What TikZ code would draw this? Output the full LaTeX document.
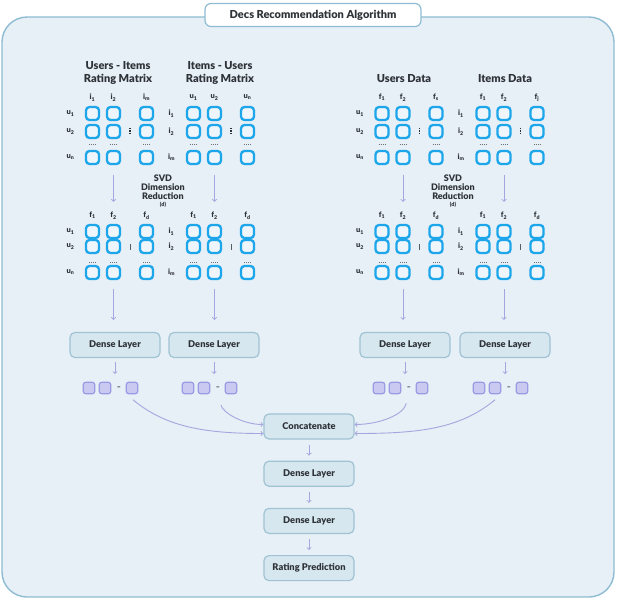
\documentclass[tikz,border=0pt]{standalone}
\usepackage{fontspec}
\setmainfont{Lato}[BoldFont={Lato Black}]
\usetikzlibrary{shapes, arrows, positioning}

\definecolor{framefill}{HTML}{E7EFF7}
\definecolor{frameline}{HTML}{8FBCD2}
\definecolor{cellline}{HTML}{1DA6EA}
\definecolor{cellfill}{HTML}{EEF6FC}
\definecolor{layerfill}{HTML}{D7E7F0}
\definecolor{layerline}{HTML}{A0C3D3}
\definecolor{vecfill}{HTML}{C9C9F1}
\definecolor{vecline}{HTML}{9B9BE3}
\definecolor{flowcol}{HTML}{A6A6DE}
\definecolor{inkcol}{HTML}{2E3338}

% one matrix of cells: name, origin, column letter, last column, row letter, last row, row gap, separator style
\newcommand{\ratingmat}[8]{%
\begin{scope}[shift={#2}]
  \foreach \cx/\ci in {0/1, 21/2, 54/#4}
    \node[colhead] at (\cx,-16) {#3\textsubscript{\ci}};
  \foreach \ry/\ri [count=\r] in {0/1, #7/2, #7+26/#6} {
    \node[rowhead] at (-22,\ry) {#5\textsubscript{\ri}};
    \foreach \cx [count=\k] in {0, 21, 54}
      \node[cell] (#1-\r-\k) at (\cx,\ry) {};
  }
  \foreach \cx in {0, 21, 54}
    \draw[hdots] (\cx-3.5,31) -- (\cx+3.5,31);
  \draw[#8] (37.5,#7-4) -- (37.5,#7+4);
\end{scope}}

\begin{document}
\begin{tikzpicture}[
    x=1pt, y=-1pt,
    node distance=21pt,
    every node/.style={text=inkcol, font=\bfseries},
    frame/.style={draw=frameline, fill=framefill, line width=1.4pt, rounded corners=25pt},
    titlebox/.style={rectangle, draw=frameline, fill=white, line width=1.2pt, rounded corners=6pt,
        minimum width=216pt, minimum height=23pt, font=\fontsize{11}{12}\selectfont\bfseries},
    heading/.style={align=center, font=\fontsize{11}{13}\selectfont\bfseries},
    colhead/.style={font=\fontsize{7.5}{7.5}\selectfont\bfseries, inner sep=0pt},
    rowhead/.style={font=\fontsize{7.5}{7.5}\selectfont\bfseries, inner sep=0pt},
    cell/.style={rectangle, draw=cellline, fill=cellfill, line width=2.3pt, rounded corners=3.5pt,
        minimum size=13pt, inner sep=0pt},
    hdots/.style={draw=inkcol!70, line width=0.9pt, dash pattern=on 0.9pt off 1.1pt},
    sepdots/.style={draw=inkcol, line width=1.3pt, dash pattern=on 1.3pt off 1.5pt},
    sepbar/.style={draw=inkcol!80, line width=0.8pt, shorten <=1pt, shorten >=1pt},
    svd/.style={align=center, font=\fontsize{9}{9.2}\selectfont\bfseries, inner sep=1pt},
    layer/.style={rectangle, draw=layerline, fill=layerfill, line width=1.2pt, rounded corners=5pt,
        minimum width=90pt, minimum height=25pt, font=\fontsize{9.3}{10}\selectfont\bfseries},
    vec/.style={rectangle, draw=vecline, fill=vecfill, line width=1.2pt, rounded corners=2.5pt,
        minimum size=11.5pt, inner sep=0pt},
    vdots/.style={font=\fontsize{7}{7}\selectfont\bfseries, inner sep=0pt},
    flow/.style={->, draw=flowcol, line width=0.9pt}
]
\useasboundingbox (0,0) rectangle (617,600);

% Frame and title
\draw[frame] (2,17) rectangle (614,597);
\node[titlebox] (title) at (313,15) {Decs Recommendation Algorithm};

% Headings
\node[heading] (head1) at (118,73) {Users - Items\\Rating Matrix};
\node[heading] (head2) at (220,73) {Items - Users\\Rating Matrix};
\node[heading] (head3) at (404,79) {Users Data};
\node[heading] (head4) at (505,79) {Items Data};

% Input matrices
\ratingmat{ui}{(92.5,113.5)}{i}{m}{u}{n}{18}{sepdots}
\ratingmat{iu}{(193.5,113.5)}{u}{n}{i}{m}{18}{sepdots}
\ratingmat{ud}{(382,113.5)}{f}{s}{u}{n}{18}{sepdots}
\ratingmat{id}{(483,113.5)}{f}{j}{i}{m}{18}{sepdots}

% Reduced matrices
\ratingmat{uir}{(92.5,231.5)}{f}{d}{u}{n}{15}{sepbar}
\ratingmat{iur}{(193.5,231.5)}{f}{d}{i}{m}{15}{sepbar}
\ratingmat{udr}{(382,231.5)}{f}{d}{u}{n}{15}{sepbar}
\ratingmat{idr}{(483,231.5)}{f}{d}{i}{m}{15}{sepbar}

% SVD labels
\node[svd] (svd1) at (163,187) {SVD\\Dimension\\Reduction};
\node[font=\fontsize{5.5}{5.5}\selectfont\bfseries, inner sep=0pt, below=1pt of svd1] {(d)};
\node[svd] (svd2) at (453,187) {SVD\\Dimension\\Reduction};
\node[font=\fontsize{5.5}{5.5}\selectfont\bfseries, inner sep=0pt, below=1pt of svd2] {(d)};

% Dense layers
\node[layer] (dense1) at (115,345) {Dense Layer};
\node[layer] (dense2) at (214,345) {Dense Layer};
\node[layer] (dense3) at (405,345) {Dense Layer};
\node[layer] (dense4) at (505,345) {Dense Layer};

% Output vectors
\foreach \d/\x in {1/115, 2/214, 3/405, 4/505} {
  \node[vec] (vec\d a) at (\x-26,388) {};
  \node[vec] (vec\d b) at (\x-10,388) {};
  \node[vdots] (vec\d d) at (\x+4,388) {\textendash};
  \node[vec] (vec\d c) at (\x+17,388) {};
}

% Merge chain
\node[layer] (concat) at (309,426.5) {Concatenate};
\node[layer, below=of concat] (dense5) {Dense Layer};
\node[layer, below=of dense5] (dense6) {Dense Layer};
\node[layer, below=of dense6] (predict) {Rating Prediction};

% Edges
\draw[flow, shorten <=10pt, shorten >=22pt] (ui-3-2) -- (uir-1-2);
\draw[flow, shorten <=10pt, shorten >=22pt] (iu-3-2) -- (iur-1-2);
\draw[flow, shorten <=10pt, shorten >=22pt] (ud-3-2) -- (udr-1-2);
\draw[flow, shorten <=10pt, shorten >=22pt] (id-3-2) -- (idr-1-2);
\draw[flow, shorten <=9pt, shorten >=12pt] (uir-3-2) -- (uir-3-2 |- dense1.north);
\draw[flow, shorten <=9pt, shorten >=12pt] (iur-3-2) -- (iur-3-2 |- dense2.north);
\draw[flow, shorten <=9pt, shorten >=12pt] (udr-3-2) -- (udr-3-2 |- dense3.north);
\draw[flow, shorten <=9pt, shorten >=12pt] (idr-3-2) -- (idr-3-2 |- dense4.north);
\foreach \d in {1,2,3,4}
  \draw[flow, shorten <=4pt, shorten >=14pt] (dense\d) -- (dense\d |- vec\d b);
\draw[flow, shorten <=16pt] (vec1d) to[out=-40, in=180] ([yshift=-7pt]concat.west);
\draw[flow, shorten <=16pt] (vec2d) to[out=-80, in=180] ([yshift=2pt]concat.west);
\draw[flow, shorten <=14pt] (vec3d) to[out=-100, in=0] ([yshift=2pt]concat.east);
\draw[flow, shorten <=16pt] (vec4d) to[out=-140, in=0] ([yshift=-7pt]concat.east);
\draw[flow, shorten <=5pt, shorten >=5pt] (concat) -- (dense5);
\draw[flow, shorten <=5pt, shorten >=5pt] (dense5) -- (dense6);
\draw[flow, shorten <=5pt, shorten >=5pt] (dense6) -- (predict);

\end{tikzpicture}
\end{document}
